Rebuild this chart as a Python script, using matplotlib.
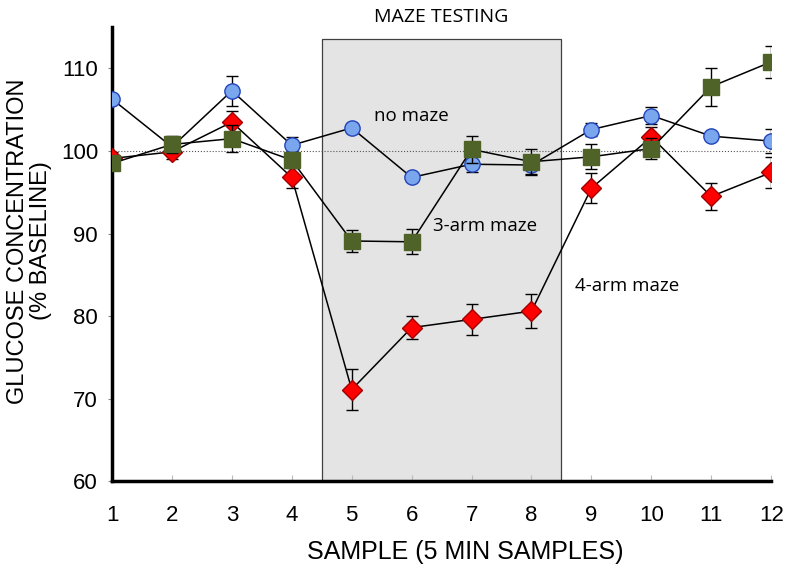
import matplotlib.pyplot as plt
from matplotlib.patches import Rectangle

# samples 1..12, glucose as % of baseline
samples = [1, 2, 3, 4, 5, 6, 7, 8, 9, 10, 11, 12]

no_maze = [106.3, 100.5, 107.3, 100.7, 102.8, 96.8, 98.4, 98.3, 102.6, 104.3, 101.8, 101.2]
no_maze_err = [0.5, 0.8, 1.8, 1.0, 0.6, 0.4, 1.0, 1.2, 0.8, 1.0, 0.4, 1.5]

arm3 = [98.5, 100.8, 101.5, 98.9, 89.1, 89.0, 100.2, 98.7, 99.3, 100.3, 107.8, 110.8]
arm3_err = [0.8, 1.0, 1.6, 1.0, 1.3, 1.5, 1.6, 1.5, 1.5, 1.3, 2.3, 1.9]

arm4 = [99.1, 99.9, 103.5, 96.8, 71.1, 78.6, 79.6, 80.6, 95.5, 101.7, 94.5, 97.4]
arm4_err = [0.8, 0.9, 1.3, 1.3, 2.5, 1.4, 1.9, 2.1, 1.8, 1.2, 1.6, 1.9]

fig = plt.figure(figsize=(8, 5.79), dpi=100)
ax = fig.add_axes([0.14, 0.169, 0.824, 0.784])
ax.set_xlim(1, 12)
ax.set_ylim(60, 115)

# maze testing window
ax.add_patch(Rectangle((4.5, 60), 4.0, 53.6, facecolor='#e4e4e4',
                       edgecolor='#404040', linewidth=0.9, zorder=0, clip_on=False))
ax.text(6.5, 116.2, 'MAZE TESTING', ha='center', va='center',
        fontsize=14, family='Open Sans', clip_on=False)

# baseline
ax.axhline(100, color='#555555', linestyle=':', linewidth=0.8, zorder=1)

ekw = dict(ecolor='black', elinewidth=1.0, capsize=4, capthick=1.0, color='black',
           linewidth=1.1)
ax.errorbar(samples, no_maze, yerr=no_maze_err, marker='o', markersize=11,
            markerfacecolor='#7aa6ee', markeredgecolor='#2244bb', zorder=3, **ekw)
ax.errorbar(samples, arm4, yerr=arm4_err, marker='D', markersize=10,
            markerfacecolor='#ff0000', markeredgecolor='#a00000', zorder=4, **ekw)
ax.errorbar(samples, arm3, yerr=arm3_err, marker='s', markersize=11,
            markerfacecolor='#4f6228', markeredgecolor='#4f6228', zorder=5, **ekw)

ax.text(5.38, 104.3, 'no maze', fontsize=13.5, family='Open Sans', va='center')
ax.text(6.35, 90.9, '3-arm maze', fontsize=13.5, family='Open Sans', va='center')
ax.text(8.73, 83.7, '4-arm maze', fontsize=13.5, family='Open Sans', va='center')

for s in ['top', 'right']:
    ax.spines[s].set_visible(False)
for s in ['left', 'bottom']:
    ax.spines[s].set_linewidth(2.5)

ax.set_xticks(samples)
ax.set_yticks([60, 70, 80, 90, 100, 110])
ax.tick_params(axis='x', direction='in', length=4, color='#bbbbbb', pad=17,
               labelsize=16)
ax.tick_params(axis='y', direction='out', length=3, color='#888888', pad=7,
               labelsize=16)
for lab in ax.get_xticklabels() + ax.get_yticklabels():
    lab.set_family('Liberation Sans')

ax.set_xlabel('SAMPLE (5 MIN SAMPLES)', fontsize=18, family='Liberation Sans')
ax.set_ylabel('GLUCOSE CONCENTRATION\n(% BASELINE)', fontsize=17,
              family='Liberation Sans', linespacing=1.05)
ax.xaxis.set_label_coords(0.536, -0.13)
ax.yaxis.set_label_coords(-0.091, 0.529)

fig.savefig('out.png', dpi=100)
